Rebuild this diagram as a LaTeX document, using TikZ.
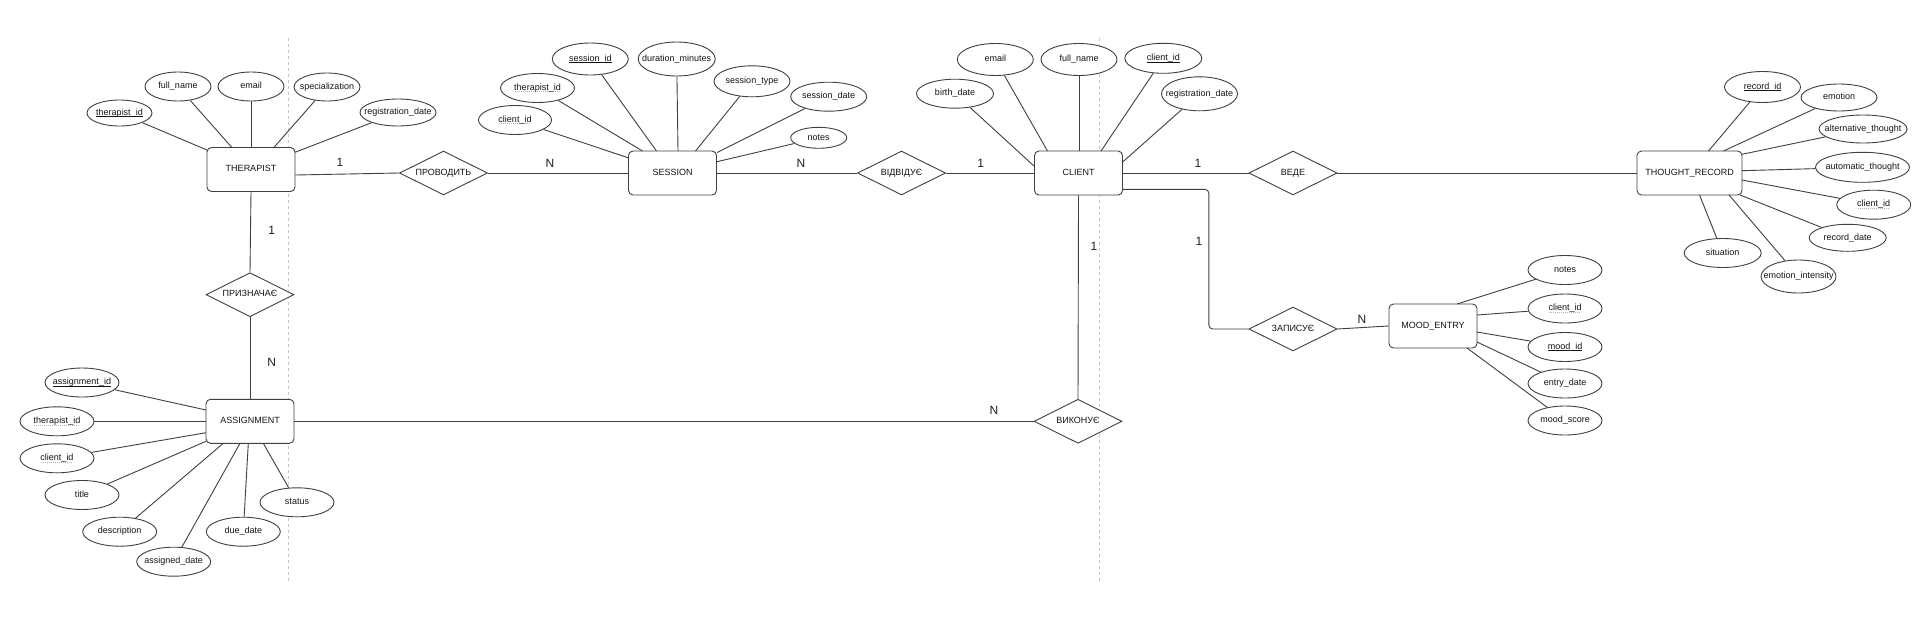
\documentclass[tikz,border=0pt]{standalone}
\usepackage{fontspec}
\setmainfont{Liberation Sans}
\usetikzlibrary{shapes.geometric,calc}
\newlength\keyw
\newcommand{\pkey}[1]{\settowidth{\keyw}{#1}\rlap{\raisebox{-1.8pt}{\vrule width\keyw height 0.7pt depth 0pt}}#1}
\newcommand{\fkey}[1]{\settowidth{\keyw}{#1}\rlap{\color{black!30}\raisebox{-1.8pt}{\hbox to\keyw{\leaders\hbox to 2pt{\hss\vrule width 1pt height 0.7pt depth 0pt\hss}\hfill}}}#1}
\begin{document}
\begin{tikzpicture}[x=1pt,y=-1pt,
  every node/.style={font=\fontsize{9}{11}\selectfont, text=black!92},
  ent/.style={draw=black!75, line width=0.9pt, rounded corners=4.5pt, fill=white, minimum width=88pt, minimum height=44pt, inner sep=0pt, text height=6.5pt, text depth=2pt},
  attr/.style 2 args={ellipse, draw=black!75, line width=0.9pt, fill=white, inner sep=0pt, minimum width=#1pt, minimum height=#2pt, text height=6.5pt, text depth=2pt},
  rel/.style={diamond, draw=black!75, line width=0.9pt, fill=white, minimum width=88pt, minimum height=44pt, inner sep=0pt, aspect=2, text height=6.5pt, text depth=2pt},
  link/.style={draw=black!75, line width=0.9pt},
  card/.style={font=\fontsize{12}{14}\selectfont, inner sep=0pt, text=black!88},
  pagebreak/.style={draw=black!22, line width=0.8pt, dash pattern=on 3pt off 3pt}
]
\fill[white] (0,0) rectangle (1918,624);
\path[use as bounding box] (0,0) rectangle (1918,624);

% page break guides
\coordinate (pb1t) at (288.5,38); \coordinate (pb1b) at (288.5,584);
\coordinate (pb2t) at (1099,38); \coordinate (pb2b) at (1099,584);
\draw[pagebreak] (pb1t) -- (pb1b);
\draw[pagebreak] (pb2t) -- (pb2b);

% entities
\node[ent] (therapist) at (251,169.5) {\makebox[0pt]{THERAPIST}};
\node[ent] (session) at (672.5,173) {\makebox[0pt]{SESSION}};
\node[ent] (client) at (1078.5,173) {\makebox[0pt]{CLIENT}};
\node[ent, minimum width=105pt] (thought) at (1689.5,173) {\makebox[0pt]{THOUGHT\_RECORD}};
\node[ent] (mood) at (1433,326) {\makebox[0pt]{MOOD\_ENTRY}};
\node[ent] (assignment) at (250,421.3) {\makebox[0pt]{ASSIGNMENT}};

% relationships
\node[rel] (provodyt) at (443.5,173) {\makebox[0pt]{ПРОВОДИТЬ}};
\node[rel] (vidviduie) at (901.5,173) {\makebox[0pt]{ВІДВІДУЄ}};
\node[rel] (vede) at (1293,173) {\makebox[0pt]{ВЕДЕ}};
\node[rel] (zapysuie) at (1293,329) {\makebox[0pt]{ЗАПИСУЄ}};
\node[rel] (vykonuie) at (1078,421.3) {\makebox[0pt]{ВИКОНУЄ}};
\node[rel] (pryznachaie) at (250,294.7) {\makebox[0pt]{ПРИЗНАЧАЄ}};

% THERAPIST attributes
\node[attr={65}{26}] (t_id) at (119.5,113) {\makebox[0pt]{\pkey{therapist\_id}}};
\node[attr={66}{29}] (t_fn) at (178,86.5) {\makebox[0pt]{full\_name}};
\node[attr={66}{29}] (t_em) at (251,86.5) {\makebox[0pt]{email}};
\node[attr={66}{28}] (t_sp) at (327,87) {\makebox[0pt]{specialization}};
\node[attr={76}{27}] (t_rd) at (398,112.5) {\makebox[0pt]{registration\_date}};

% SESSION attributes
\node[attr={73}{29}] (s_cid) at (515,120) {\makebox[0pt]{\fkey{client\_id}}};
\node[attr={74}{29}] (s_tid) at (537.5,88) {\makebox[0pt]{\fkey{therapist\_id}}};
\node[attr={76}{32}] (s_sid) at (590.3,59) {\makebox[0pt]{\pkey{session\_id}}};
\node[attr={77}{34}] (s_dur) at (676.7,59) {\makebox[0pt]{duration\_minutes}};
\node[attr={76}{31}] (s_typ) at (752,81.3) {\makebox[0pt]{session\_type}};
\node[attr={76}{29}] (s_dat) at (828.7,96.7) {\makebox[0pt]{session\_date}};
\node[attr={56}{21}] (s_not) at (818.7,137.8) {\makebox[0pt]{notes}};

% CLIENT attributes
\node[attr={77}{29}] (c_bd) at (955,93.7) {\makebox[0pt]{birth\_date}};
\node[attr={76}{32}] (c_em) at (995.3,59.5) {\makebox[0pt]{email}};
\node[attr={76}{32}] (c_fn) at (1079,59.5) {\makebox[0pt]{full\_name}};
\node[attr={77}{30}] (c_id) at (1163.3,58.3) {\makebox[0pt]{\pkey{client\_id}}};
\node[attr={76}{34}] (c_rd) at (1199.5,93.8) {\makebox[0pt]{registration\_date}};

% THOUGHT_RECORD attributes
\node[attr={76}{31}] (r_id) at (1762.5,87) {\makebox[0pt]{\pkey{record\_id}}};
\node[attr={76}{27}] (r_emo) at (1839,97.5) {\makebox[0pt]{emotion}};
\node[attr={88}{28}] (r_alt) at (1863,129) {\makebox[0pt]{alternative\_thought}};
\node[attr={94}{30}] (r_aut) at (1862.5,167.3) {\makebox[0pt]{automatic\_thought}};
\node[attr={74}{29}] (r_cid) at (1873.7,204.7) {\makebox[0pt]{\fkey{client\_id}}};
\node[attr={77}{27}] (r_rd) at (1847.7,237.8) {\makebox[0pt]{record\_date}};
\node[attr={77}{29}] (r_sit) at (1722.7,253) {\makebox[0pt]{situation}};
\node[attr={75}{33}] (r_ei) at (1798.5,276.5) {\makebox[0pt]{emotion\_intensity}};

% MOOD_ENTRY attributes
\node[attr={74}{29}] (m_not) at (1565,270) {\makebox[0pt]{notes}};
\node[attr={74}{29}] (m_cid) at (1565,308.5) {\makebox[0pt]{\fkey{client\_id}}};
\node[attr={74}{29}] (m_id) at (1565,347) {\makebox[0pt]{\pkey{mood\_id}}};
\node[attr={74}{29}] (m_ed) at (1565,383.5) {\makebox[0pt]{entry\_date}};
\node[attr={74}{29}] (m_ms) at (1565,420.5) {\makebox[0pt]{mood\_score}};

% ASSIGNMENT attributes
\node[attr={74}{29}] (a_id) at (82,382.5) {\makebox[0pt]{\pkey{assignment\_id}}};
\node[attr={74}{29}] (a_tid) at (57,421.3) {\makebox[0pt]{\fkey{therapist\_id}}};
\node[attr={74}{29}] (a_cid) at (57,458.3) {\makebox[0pt]{\fkey{client\_id}}};
\node[attr={74}{29}] (a_tit) at (82,495) {\makebox[0pt]{title}};
\node[attr={74}{29}] (a_des) at (119.7,531.7) {\makebox[0pt]{description}};
\node[attr={74}{29}] (a_ad) at (173.7,561.7) {\makebox[0pt]{assigned\_date}};
\node[attr={74}{29}] (a_dd) at (243.3,531.7) {\makebox[0pt]{due\_date}};
\node[attr={74}{29}] (a_st) at (297,502.3) {\makebox[0pt]{status}};

% attribute links
\draw[link] ($(therapist)+(-44,-19.5)$) -- (t_id);
\draw[link] ($(therapist)+(-19.3,-22.2)$) -- (t_fn);
\draw[link] (therapist.north) -- (t_em);
\draw[link] ($(therapist)+(23,-22.2)$) -- (t_sp);
\draw[link] ($(therapist)+(44,-17.2)$) -- (t_rd);

\draw[link] ($(session)+(-44.5,-15.3)$) -- (s_cid);
\draw[link] ($(session)+(-30,-22)$) -- (s_tid);
\draw[link] ($(session)+(-16,-22)$) -- (s_sid);
\draw[link] ($(session)+(5.5,-22)$) -- (s_dur);
\draw[link] ($(session)+(23,-22)$) -- (s_typ);
\draw[link] ($(session)+(44.5,-20.5)$) -- (s_dat);
\draw[link] ($(session)+(44.5,-11.3)$) -- (s_not);

\draw[link] ($(client)+(-44.5,-7)$) -- (c_bd);
\draw[link] ($(client)+(-31,-22)$) -- (c_em);
\draw[link] ($(client)+(0.5,-22)$) -- (c_fn);
\draw[link] ($(client)+(22.5,-22)$) -- (c_id);
\draw[link] ($(client)+(44.5,-11.3)$) -- (c_rd);

\draw[link] ($(thought)+(19,-22)$) -- (r_id);
\draw[link] ($(thought)+(34,-22)$) -- (r_emo);
\draw[link] ($(thought)+(52.5,-18.7)$) -- (r_alt);
\draw[link] ($(thought)+(52.5,-2.3)$) -- (r_aut);
\draw[link] ($(thought)+(52.5,7)$) -- (r_cid);
\draw[link] ($(thought)+(50.5,22)$) -- (r_rd);
\draw[link] ($(thought)+(39.5,22)$) -- (r_ei);
\draw[link] ($(thought)+(10,22)$) -- (r_sit);

\draw[link] ($(mood)+(24,-22)$) -- (m_not);
\draw[link] ($(mood)+(44,-11)$) -- (m_cid);
\draw[link] ($(mood)+(44,6)$) -- (m_id);
\draw[link] ($(mood)+(44,16)$) -- (m_ed);
\draw[link] ($(mood)+(34,22)$) -- (m_ms);

\draw[link] ($(assignment)+(-44,-11.3)$) -- (a_id);
\draw[link] (assignment.west) -- (a_tid);
\draw[link] ($(assignment)+(-44,11.4)$) -- (a_cid);
\draw[link] ($(assignment)+(-44,20)$) -- (a_tit);
\draw[link] ($(assignment)+(-26.7,22)$) -- (a_des);
\draw[link] ($(assignment)+(-10,22)$) -- (a_ad);
\draw[link] ($(assignment)+(-1.7,22)$) -- (a_dd);
\draw[link] ($(assignment)+(13.3,22)$) -- (a_st);

% relationship links
\draw[link] ($(therapist.east)+(0,5.5)$) -- (provodyt.west);
\draw[link] (provodyt.east) -- (session.west);
\draw[link] (session.east) -- (vidviduie.west);
\draw[link] (vidviduie.east) -- (client.west);
\draw[link] (client.east) -- (vede.west);
\draw[link] (vede.east) -- (thought.west);
\draw[link, rounded corners=4pt] ($(client.east)+(0,16.3)$) -| ($(zapysuie.west)+(-39.7,0)$) -- (zapysuie.west);
\draw[link] (zapysuie.east) -- (mood.west);
\draw[link] (client.south) -- (vykonuie.north);
\draw[link] (assignment.east) -- (vykonuie.west);
\draw[link] (therapist.south) -- (pryznachaie.north);
\draw[link] (pryznachaie.south) -- (assignment.north);

% cardinalities
\node[card] (k1) at (340,162.7) {1};
\node[card] (k2) at (550,163) {N};
\node[card] (k3) at (801,163) {N};
\node[card] (k4) at (980.7,163) {1};
\node[card] (k5) at (1198,163) {1};
\node[card] (k6) at (1199,241) {1};
\node[card] (k7) at (1362,319) {N};
\node[card] (k8) at (1094,246.7) {1};
\node[card] (k9) at (994,410.7) {N};
\node[card] (k10) at (271.7,230) {1};
\node[card] (k11) at (271.7,362.7) {N};
\end{tikzpicture}
\end{document}
